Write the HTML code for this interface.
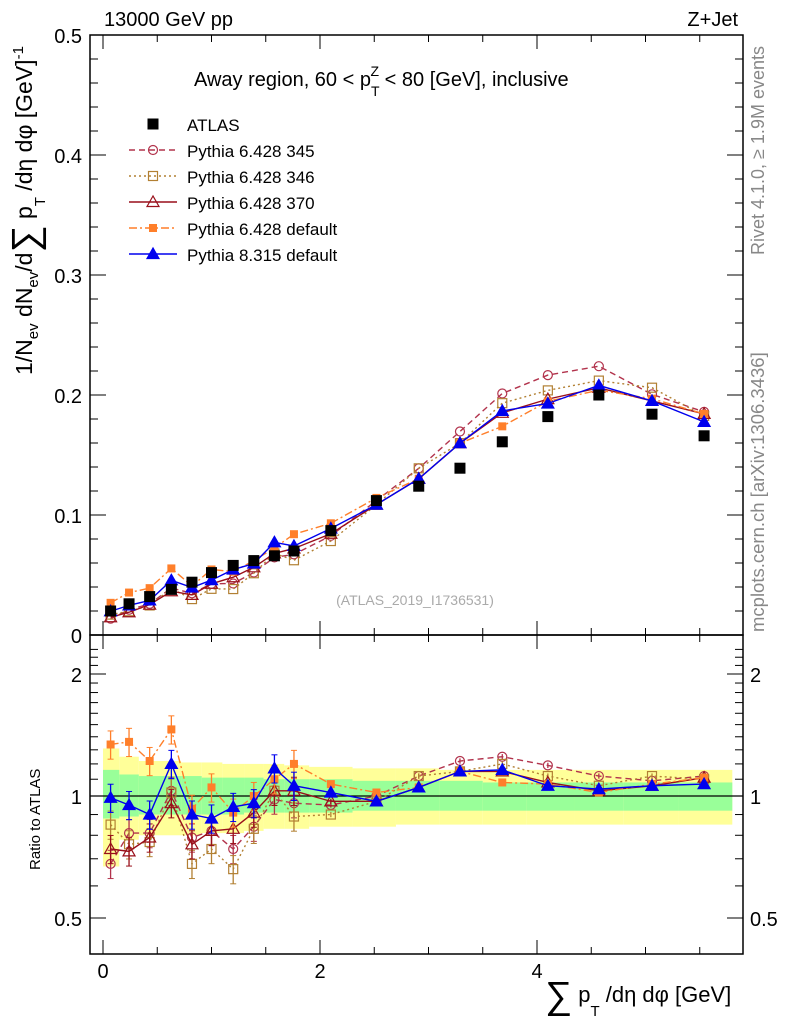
<!DOCTYPE html>
<html><head><meta charset="utf-8"><style>
body{margin:0;background:#fff;}
svg{display:block;font-family:"Liberation Sans",sans-serif;}
</style></head><body>
<svg id="c" width="786" height="1024" viewBox="0 0 786 1024"></svg>
<script>
const xs=[0.07,0.24,0.43,0.63,0.82,1.0,1.2,1.39,1.58,1.76,2.1,2.52,2.91,3.29,3.68,4.1,4.57,5.06,5.54];
const atlas=[0.020,0.026,0.032,0.038,0.044,0.052,0.058,0.062,0.066,0.070,0.087,0.112,0.124,0.139,0.161,0.182,0.200,0.184,0.166];
const r345=[0.68,0.81,0.81,1.03,0.79,0.82,0.74,0.84,0.98,0.96,0.95,1.0,1.12,1.22,1.25,1.19,1.12,1.09,1.12];
const r346=[0.85,0.76,0.77,1.02,0.68,0.74,0.66,0.83,1.03,0.89,0.9,0.97,1.12,1.15,1.2,1.12,1.06,1.12,1.1];
const r370=[0.74,0.73,0.79,0.96,0.76,0.82,0.83,0.91,1.03,1.03,0.97,0.97,1.05,1.15,1.15,1.08,1.03,1.06,1.11];
const rdef=[1.34,1.36,1.22,1.46,0.93,1.05,0.91,1.0,1.1,1.2,1.07,1.02,1.05,1.15,1.08,1.07,1.02,1.07,1.11];
const r8=[0.99,0.95,0.90,1.2,0.90,0.88,0.94,0.96,1.17,1.06,1.02,0.97,1.05,1.15,1.16,1.06,1.04,1.06,1.07];
const edges=[0,0.15,0.33,0.53,0.72,0.91,1.1,1.3,1.48,1.67,1.9,2.3,2.7,3.1,3.5,3.9,4.35,4.8,5.3,5.8];
const yHi=[1.31,1.25,1.22,1.22,1.21,1.21,1.2,1.2,1.2,1.19,1.18,1.17,1.17,1.16,1.16,1.16,1.16,1.16,1.16];
const yLo=[0.67,0.78,0.8,0.8,0.8,0.81,0.81,0.82,0.83,0.83,0.84,0.84,0.85,0.85,0.85,0.85,0.85,0.85,0.85];
const gHi=[1.16,1.13,1.12,1.12,1.12,1.11,1.11,1.11,1.1,1.1,1.1,1.09,1.09,1.09,1.08,1.08,1.08,1.08,1.08];
const gLo=[0.88,0.89,0.9,0.9,0.9,0.9,0.9,0.91,0.91,0.91,0.91,0.92,0.92,0.92,0.92,0.92,0.92,0.92,0.92];
const yTicks=["0","0.1","0.2","0.3","0.4","0.5"];
const xTicks=["0","2","4"];

const NS="http://www.w3.org/2000/svg",svg=document.getElementById('c');
const L=90,R=743,T=35,M=635,B=954;
const X=v=>103+v*108.5, Y=v=>635-v*1200, RY=r=>796-122*Math.log2(r);
function el(t,a,p){const e=document.createElementNS(NS,t);for(const k in a)e.setAttribute(k,a[k]);(p||svg).appendChild(e);return e;}
function txt(x,y,s,a){const e=el('text',Object.assign({x:x,y:y},a));e.textContent=s;return e;}

const bands=el('g',{});

edges.slice(0,-1).forEach((e,i)=>{
 el('rect',{x:X(e),y:RY(yHi[i]),width:X(edges[i+1])-X(e),height:RY(yLo[i])-RY(yHi[i]),fill:'#ffff99'},bands);
});
edges.slice(0,-1).forEach((e,i)=>{
 el('rect',{x:X(e),y:RY(gHi[i]),width:X(edges[i+1])-X(e),height:RY(gLo[i])-RY(gHi[i]),fill:'#99ff99'},bands);
});
el('line',{x1:L,x2:R,y1:RY(1),y2:RY(1),stroke:'#000','stroke-width':1.2});

el('rect',{x:L,y:T,width:R-L,height:M-T,fill:'none',stroke:'#000','stroke-width':1.5});
el('rect',{x:L,y:M,width:R-L,height:B-M,fill:'none',stroke:'#000','stroke-width':1.5});

for(let v=0;v<=5.5;v+=0.5){const maj=Math.abs(v%2)<1e-6;const len=maj?14:7;
 [T,M].forEach(y0=>el('line',{x1:X(v),x2:X(v),y1:y0,y2:y0+len,stroke:'#000'}));
 [M,B].forEach(y0=>el('line',{x1:X(v),x2:X(v),y1:y0,y2:y0-len,stroke:'#000'}));}
xTicks.forEach((s,i)=>{const t=txt(X(i*2),978,s,{'font-size':20,'text-anchor':'middle'});});
for(let i=0;i<=25;i++){const v=i*0.02,len=i%5==0?16:8;el('line',{x1:L,x2:L+len,y1:Y(v),y2:Y(v),stroke:'#000'});el('line',{x1:R,x2:R-len,y1:Y(v),y2:Y(v),stroke:'#000'});}
yTicks.forEach((s,i)=>{const t=txt(82,Y(i*0.1)+8,s,{'font-size':20,'text-anchor':'end'});});
[0.5,0.6,0.7,0.8,0.9,1,1.1,1.2,1.3,1.4,1.5,1.6,1.7,1.8,1.9,2,2.1,2.2,2.3].forEach(r=>{const maj=(r==0.5||r==1||r==2),len=maj?16:8;
 el('line',{x1:L,x2:L+len,y1:RY(r),y2:RY(r),stroke:'#000'});el('line',{x1:R,x2:R-len,y1:RY(r),y2:RY(r),stroke:'#000'});});
[["0.5",0.5],["1",1],["2",2]].forEach(([s,r])=>{txt(82,RY(r)+8,s,{'font-size':20,'text-anchor':'end'});txt(750,RY(r)+8,s,{'font-size':20});});

const series=[
 {n:'pythia-6428-345',r:r345,c:'#b2334c',d:'6,4',m:'circle'},
 {n:'pythia-6428-346',r:r346,c:'#b28033',d:'2,3',m:'square'},
 {n:'pythia-6428-370',r:r370,c:'#990f1a',d:'',m:'tri'},
 {n:'pythia-6428-default',r:rdef,c:'#ff7f2a',d:'8,3,2,3',m:'fsquare'},
 {n:'pythia-8315-default',r:r8,c:'#0000ee',d:'',m:'ftri'}];
function marker(g,m,x,y,c){
 if(m=='circle')el('circle',{cx:x,cy:y,r:4.5,fill:'none',stroke:c,'stroke-width':1.2},g);
 else if(m=='square')el('rect',{x:x-4.5,y:y-4.5,width:9,height:9,fill:'none',stroke:c,'stroke-width':1.2},g);
 else if(m=='fsquare')el('rect',{x:x-4,y:y-4,width:8,height:8,fill:c},g);
 else if(m=='bsquare')el('rect',{x:x-5.5,y:y-5.5,width:11,height:11,fill:c},g);
 else el('polygon',{points:`${x},${y-6} ${x-6},${y+4.5} ${x+6},${y+4.5}`,fill:m=='ftri'?c:'none',stroke:c,'stroke-width':1.2},g);
}
const ag=el('g',{});
series.forEach(s=>{
 const g=el('g',{});
 const pts=xs.map((x,i)=>X(x)+','+Y(atlas[i]*s.r[i])).join(' ');
 el('polyline',{points:pts,fill:'none',stroke:s.c,'stroke-width':1.4,'stroke-dasharray':s.d},g);
 xs.forEach((x,i)=>marker(g,s.m,X(x),Y(atlas[i]*s.r[i]),s.c));
 const h=el('g',{});
 el('polyline',{points:xs.map((x,i)=>X(x)+','+RY(s.r[i])).join(' '),fill:'none',stroke:s.c,'stroke-width':1.4,'stroke-dasharray':s.d},h);
 xs.forEach((x,i)=>{const e=i<10?0.08:0.015;el('line',{x1:X(x),x2:X(x),y1:RY(s.r[i]*(1+e)),y2:RY(s.r[i]*(1-e)),stroke:s.c,'stroke-width':1.3},h);
  if(i<10){el('line',{x1:X(x)-3,x2:X(x)+3,y1:RY(s.r[i]*(1+e)),y2:RY(s.r[i]*(1+e)),stroke:s.c},h);el('line',{x1:X(x)-3,x2:X(x)+3,y1:RY(s.r[i]*(1-e)),y2:RY(s.r[i]*(1-e)),stroke:s.c},h);}
  marker(h,s.m,X(x),RY(s.r[i]),s.c);});
});
xs.forEach((x,i)=>marker(ag,'bsquare',X(x),Y(atlas[i]),'#000'));
svg.appendChild(ag);

const lg=el('g',{});
marker(lg,'bsquare',153,124,'#000');txt(187,131,'ATLAS',{'font-size':17},lg);
series.forEach((s,i)=>{const y=150+i*26;el('line',{x1:129,x2:177,y1:y,y2:y,stroke:s.c,'stroke-width':1.4,'stroke-dasharray':s.d},lg);marker(lg,s.m,153,y,s.c);
 txt(187,y+7,['Pythia 6.428 345','Pythia 6.428 346','Pythia 6.428 370','Pythia 6.428 default','Pythia 8.315 default'][i],{'font-size':17},lg);});
</script>
<svg width="786" height="1024" style="position:absolute;left:0;top:0">
<g font-family="Liberation Sans, DejaVu Sans, sans-serif">
<text x="104" y="26" font-size="20">13000 GeV pp</text>
<text x="738" y="26" font-size="20" text-anchor="end">Z+Jet</text>
<text x="194" y="86" font-size="20">Away region, 60 &lt; p<tspan dy="10" font-size="14">T</tspan><tspan dx="-9" dy="-20" font-size="14">Z</tspan><tspan dy="10"> &lt; 80 [GeV], inclusive</tspan></text>
<text x="415" y="605" font-size="14" fill="#aaa" text-anchor="middle">(ATLAS_2019_I1736531)</text>
<text transform="translate(764,255) rotate(-90)" font-size="18" fill="#888">Rivet 4.1.0, ≥ 1.9M events</text>
<text transform="translate(764,632) rotate(-90)" font-size="18.5" fill="#888">mcplots.cern.ch [arXiv:1306.3436]</text>
<text transform="translate(32,375) rotate(-90)" font-size="23">1/N<tspan font-size="15" dy="6">ev</tspan><tspan dy="-6"> dN</tspan><tspan font-size="15" dy="6">ev</tspan><tspan dy="-6">/d</tspan><tspan font-size="38" dy="6">∑</tspan><tspan dy="-6"> p</tspan><tspan font-size="15" dy="13">T</tspan><tspan dy="-13"> /dη dφ  [GeV]</tspan><tspan font-size="15" dy="-9">-1</tspan></text>
<text transform="translate(40,870) rotate(-90)" font-size="15">Ratio to ATLAS</text>
<text x="545" y="1002" font-size="22"><tspan font-size="38" dy="6">∑</tspan><tspan dy="-6"> p</tspan><tspan font-size="15" dy="14">T</tspan><tspan dy="-14"> /dη dφ [GeV]</tspan></text>
</g></svg>
</body></html>
